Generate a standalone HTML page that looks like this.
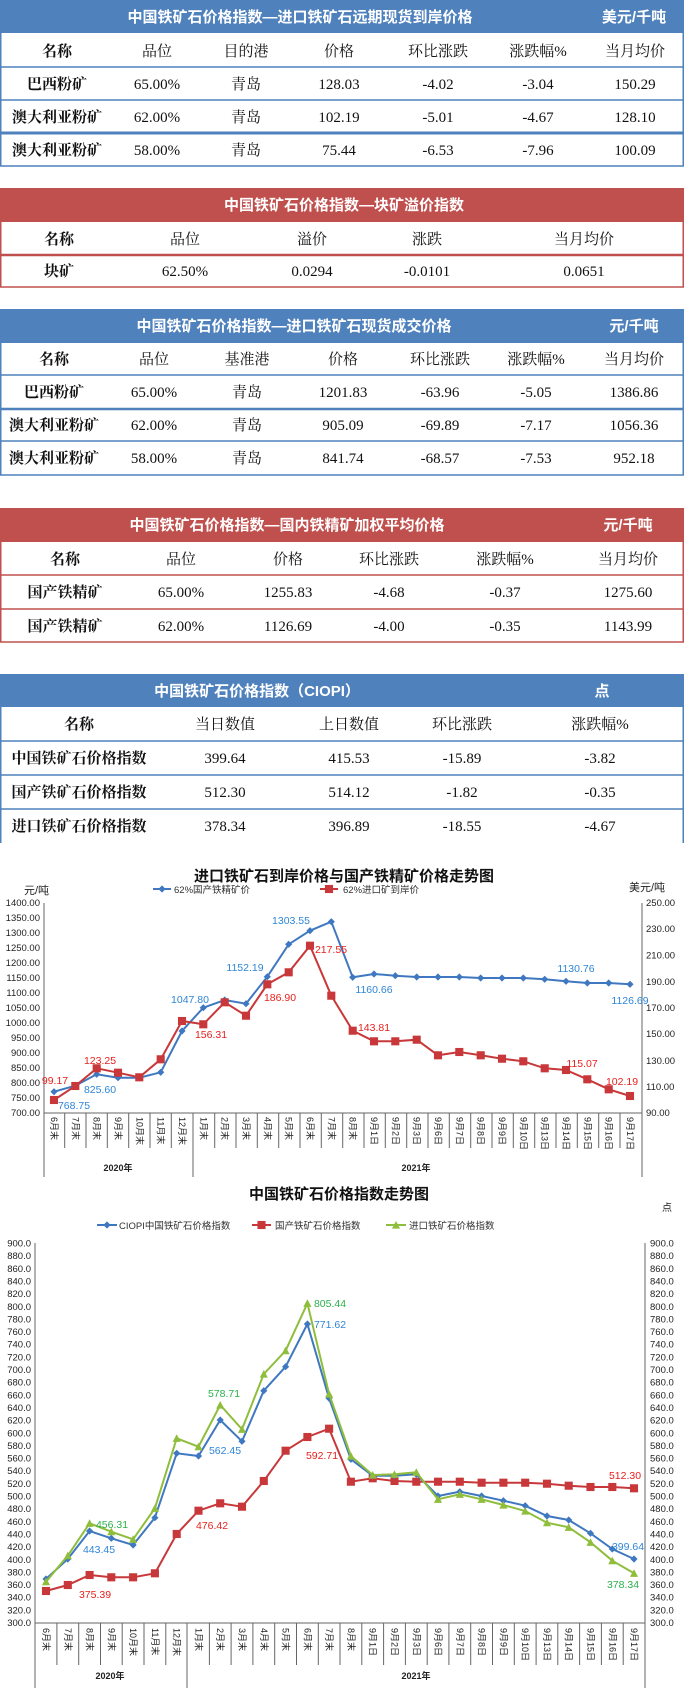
<!DOCTYPE html>
<html><head><meta charset="utf-8"><style>
body{margin:0;background:#fff;width:684px;height:1688px;overflow:hidden}
svg{display:block}
.t{font-family:"Liberation Serif","Noto Serif CJK SC",serif;font-size:15px;fill:#111;text-anchor:middle}
.b{font-weight:bold}
.h{font-family:"Liberation Sans","Noto Sans CJK SC",sans-serif;font-size:15px;font-weight:bold;fill:#fff;text-anchor:middle}
.ax{font-family:"Liberation Sans","Noto Sans CJK SC",sans-serif;font-size:9.5px;fill:#222}
.xl{font-family:"Liberation Sans","Noto Sans CJK SC",sans-serif;font-size:9px;fill:#222}
.an{font-family:"Liberation Sans",sans-serif;font-size:10.5px;text-anchor:middle}
.ti{font-family:"Liberation Sans","Noto Sans CJK SC",sans-serif;font-size:15px;font-weight:bold;fill:#111;text-anchor:middle}
.lg{font-family:"Liberation Sans","Noto Sans CJK SC",sans-serif;font-size:9.5px;fill:#333}
</style></head><body>
<svg width="684" height="1688" viewBox="0 0 684 1688" xmlns="http://www.w3.org/2000/svg">
<defs>
<marker id="mb" viewBox="-5 -5 10 10" markerWidth="8" markerHeight="8" markerUnits="userSpaceOnUse"><path d="M0,-4.5L4.5,0L0,4.5L-4.5,0Z" fill="#3f78c0"/></marker>
<marker id="mr" viewBox="-5 -5 10 10" markerWidth="9" markerHeight="9" markerUnits="userSpaceOnUse"><rect x="-4.5" y="-4.5" width="9" height="9" fill="#c8383a"/></marker>
<marker id="mg" viewBox="-5 -5 10 10" markerWidth="9" markerHeight="9" markerUnits="userSpaceOnUse"><path d="M0,-4.5L4.5,4L-4.5,4Z" fill="#8fbd3c"/></marker>
</defs>

<!-- Table 1 -->
<rect x="0" y="0" width="684" height="33" fill="#4f81bd"/>
<text class="h" x="300" y="22">中国铁矿石价格指数—进口铁矿石远期现货到岸价格</text>
<text class="h" x="634" y="22">美元/千吨</text>
<g stroke="#4f81bd" stroke-width="1.5" fill="none"><path d="M0.75,33V166M683.25,33V166M0,67H684M0,100H684M0,166H684"/><path d="M0,133H684" stroke-width="3"/></g>
<g class="t"><text x="57" y="56" class="t b">名称</text><text x="157" y="56">品位</text><text x="246" y="56">目的港</text><text x="339" y="56">价格</text><text x="438" y="56">环比涨跌</text><text x="538" y="56">涨跌幅%</text><text x="635" y="56">当月均价</text></g>
<g class="t"><text x="57" y="89" class="t b">巴西粉矿</text><text x="157" y="89">65.00%</text><text x="246" y="89">青岛</text><text x="339" y="89">128.03</text><text x="438" y="89">-4.02</text><text x="538" y="89">-3.04</text><text x="635" y="89">150.29</text></g>
<g class="t"><text x="57" y="122" class="t b">澳大利亚粉矿</text><text x="157" y="122">62.00%</text><text x="246" y="122">青岛</text><text x="339" y="122">102.19</text><text x="438" y="122">-5.01</text><text x="538" y="122">-4.67</text><text x="635" y="122">128.10</text></g>
<g class="t"><text x="57" y="155" class="t b">澳大利亚粉矿</text><text x="157" y="155">58.00%</text><text x="246" y="155">青岛</text><text x="339" y="155">75.44</text><text x="438" y="155">-6.53</text><text x="538" y="155">-7.96</text><text x="635" y="155">100.09</text></g>

<!-- Table 2 -->
<rect x="0" y="188" width="684" height="34" fill="#c0504d"/>
<text class="h" x="344" y="210">中国铁矿石价格指数—块矿溢价指数</text>
<g stroke="#c0504d" stroke-width="1.5" fill="none"><path d="M0.75,222V287M683.25,222V287M0,287H684"/><path d="M0,255H684" stroke-width="2.5"/></g>
<g class="t"><text x="59" y="244" class="t b">名称</text><text x="185" y="244">品位</text><text x="312" y="244">溢价</text><text x="427" y="244">涨跌</text><text x="584" y="244">当月均价</text></g>
<g class="t"><text x="59" y="276" class="t b">块矿</text><text x="185" y="276">62.50%</text><text x="312" y="276">0.0294</text><text x="427" y="276">-0.0101</text><text x="584" y="276">0.0651</text></g>

<!-- Table 3 -->
<rect x="0" y="309" width="684" height="34" fill="#4f81bd"/>
<text class="h" x="294" y="331">中国铁矿石价格指数—进口铁矿石现货成交价格</text>
<text class="h" x="634" y="331">元/千吨</text>
<g stroke="#4f81bd" stroke-width="1.5" fill="none"><path d="M0.75,343V475M683.25,343V475M0,375H684M0,441H684M0,475H684"/><path d="M0,409H684" stroke-width="2.5"/></g>
<g class="t"><text x="54" y="364" class="t b">名称</text><text x="154" y="364">品位</text><text x="247" y="364">基准港</text><text x="343" y="364">价格</text><text x="440" y="364">环比涨跌</text><text x="536" y="364">涨跌幅%</text><text x="634" y="364">当月均价</text></g>
<g class="t"><text x="54" y="397" class="t b">巴西粉矿</text><text x="154" y="397">65.00%</text><text x="247" y="397">青岛</text><text x="343" y="397">1201.83</text><text x="440" y="397">-63.96</text><text x="536" y="397">-5.05</text><text x="634" y="397">1386.86</text></g>
<g class="t"><text x="54" y="430" class="t b">澳大利亚粉矿</text><text x="154" y="430">62.00%</text><text x="247" y="430">青岛</text><text x="343" y="430">905.09</text><text x="440" y="430">-69.89</text><text x="536" y="430">-7.17</text><text x="634" y="430">1056.36</text></g>
<g class="t"><text x="54" y="463" class="t b">澳大利亚粉矿</text><text x="154" y="463">58.00%</text><text x="247" y="463">青岛</text><text x="343" y="463">841.74</text><text x="440" y="463">-68.57</text><text x="536" y="463">-7.53</text><text x="634" y="463">952.18</text></g>

<!-- Table 4 -->
<rect x="0" y="508" width="684" height="34" fill="#c0504d"/>
<text class="h" x="287" y="530">中国铁矿石价格指数—国内铁精矿加权平均价格</text>
<text class="h" x="628" y="530">元/千吨</text>
<g stroke="#c0504d" stroke-width="1.5" fill="none"><path d="M0.75,542V642M683.25,542V642M0,575H684M0,609H684M0,642H684"/></g>
<g class="t"><text x="65" y="564" class="t b">名称</text><text x="181" y="564">品位</text><text x="288" y="564">价格</text><text x="389" y="564">环比涨跌</text><text x="505" y="564">涨跌幅%</text><text x="628" y="564">当月均价</text></g>
<g class="t"><text x="65" y="597" class="t b">国产铁精矿</text><text x="181" y="597">65.00%</text><text x="288" y="597">1255.83</text><text x="389" y="597">-4.68</text><text x="505" y="597">-0.37</text><text x="628" y="597">1275.60</text></g>
<g class="t"><text x="65" y="631" class="t b">国产铁精矿</text><text x="181" y="631">62.00%</text><text x="288" y="631">1126.69</text><text x="389" y="631">-4.00</text><text x="505" y="631">-0.35</text><text x="628" y="631">1143.99</text></g>

<!-- Table 5 -->
<rect x="0" y="674" width="684" height="33" fill="#4f81bd"/>
<text class="h" x="257" y="696">中国铁矿石价格指数（CIOPI）</text>
<text class="h" x="602" y="696">点</text>
<g stroke="#4f81bd" stroke-width="1.5" fill="none"><path d="M0.75,707V843M683.25,707V843M0,741H684M0,775H684M0,809H684"/></g>
<g class="t"><text x="79" y="729" class="t b">名称</text><text x="225" y="729">当日数值</text><text x="349" y="729">上日数值</text><text x="462" y="729">环比涨跌</text><text x="600" y="729">涨跌幅%</text></g>
<g class="t"><text x="79" y="763" class="t b">中国铁矿石价格指数</text><text x="225" y="763">399.64</text><text x="349" y="763">415.53</text><text x="462" y="763">-15.89</text><text x="600" y="763">-3.82</text></g>
<g class="t"><text x="79" y="797" class="t b">国产铁矿石价格指数</text><text x="225" y="797">512.30</text><text x="349" y="797">514.12</text><text x="462" y="797">-1.82</text><text x="600" y="797">-0.35</text></g>
<g class="t"><text x="79" y="831" class="t b">进口铁矿石价格指数</text><text x="225" y="831">378.34</text><text x="349" y="831">396.89</text><text x="462" y="831">-18.55</text><text x="600" y="831">-4.67</text></g>

<!-- Chart 1 -->
<text class="ti" x="344" y="881">进口铁矿石到岸价格与国产铁精矿价格走势图</text>
<line x1="153" y1="889" x2="171" y2="889" stroke="#3f78c0" stroke-width="2" marker-mid="url(#mb)"/><path d="M153,889L162,889L171,889" stroke="#3f78c0" stroke-width="2" marker-mid="url(#mb)" fill="none"/>
<text class="lg" x="174" y="893">62%国产铁精矿价</text>
<path d="M320,889L329,889L338,889" stroke="#c8383a" stroke-width="2" marker-mid="url(#mr)" fill="none"/>
<text class="lg" x="343" y="893">62%进口矿到岸价</text>
<text class="ax" x="24" y="894" style="font-size:11px">元/吨</text>
<text class="ax" x="629" y="891" style="font-size:11px">美元/吨</text>
<g stroke="#666" stroke-width="1" fill="none">
<path d="M44,903V1177M642,903V1177M44,1113H642M193,1113V1177"/>
<path d="M64.7,1113v35M86,1113v35M107.3,1113v35M128.7,1113v35M150,1113v35M171.3,1113v35M214.7,1113v35M236,1113v35M257.3,1113v35M278.7,1113v35M300,1113v35M321.3,1113v35M342.7,1113v35M364,1113v35M385.3,1113v35M406.7,1113v35M428,1113v35M449.3,1113v35M470.7,1113v35M492,1113v35M513.3,1113v35M534.7,1113v35M556,1113v35M577.3,1113v35M598.7,1113v35M620,1113v35"/>
</g>
<g class="ax" text-anchor="end">
<text x="40" y="906">1400.00</text><text x="40" y="921">1350.00</text><text x="40" y="936">1300.00</text><text x="40" y="951">1250.00</text><text x="40" y="966">1200.00</text><text x="40" y="981">1150.00</text><text x="40" y="996">1100.00</text><text x="40" y="1011">1050.00</text><text x="40" y="1026">1000.00</text><text x="40" y="1041">950.00</text><text x="40" y="1056">900.00</text><text x="40" y="1071">850.00</text><text x="40" y="1086">800.00</text><text x="40" y="1101">750.00</text><text x="40" y="1116">700.00</text>
</g>
<g class="ax">
<text x="646" y="906">250.00</text><text x="646" y="932">230.00</text><text x="646" y="958.5">210.00</text><text x="646" y="985">190.00</text><text x="646" y="1011">170.00</text><text x="646" y="1037">150.00</text><text x="646" y="1064">130.00</text><text x="646" y="1090">110.00</text><text x="646" y="1116">90.00</text>
</g>
<g class="xl">
<text transform="translate(51,1117) rotate(90)">6月末</text><text transform="translate(72.3,1117) rotate(90)">7月末</text><text transform="translate(93.7,1117) rotate(90)">8月末</text><text transform="translate(115,1117) rotate(90)">9月末</text><text transform="translate(136.3,1117) rotate(90)">10月末</text><text transform="translate(157.7,1117) rotate(90)">11月末</text><text transform="translate(179,1117) rotate(90)">12月末</text><text transform="translate(200.3,1117) rotate(90)">1月末</text><text transform="translate(221.7,1117) rotate(90)">2月末</text><text transform="translate(243,1117) rotate(90)">3月末</text><text transform="translate(264.3,1117) rotate(90)">4月末</text><text transform="translate(285.7,1117) rotate(90)">5月末</text><text transform="translate(307,1117) rotate(90)">6月末</text><text transform="translate(328.3,1117) rotate(90)">7月末</text><text transform="translate(349.7,1117) rotate(90)">8月末</text><text transform="translate(371,1117) rotate(90)">9月1日</text><text transform="translate(392.3,1117) rotate(90)">9月2日</text><text transform="translate(413.7,1117) rotate(90)">9月3日</text><text transform="translate(435,1117) rotate(90)">9月6日</text><text transform="translate(456.3,1117) rotate(90)">9月7日</text><text transform="translate(477.7,1117) rotate(90)">9月8日</text><text transform="translate(499,1117) rotate(90)">9月9日</text><text transform="translate(520.3,1117) rotate(90)">9月10日</text><text transform="translate(541.7,1117) rotate(90)">9月13日</text><text transform="translate(563,1117) rotate(90)">9月14日</text><text transform="translate(584.3,1117) rotate(90)">9月15日</text><text transform="translate(605.7,1117) rotate(90)">9月16日</text><text transform="translate(627,1117) rotate(90)">9月17日</text>
</g>
<text class="xl" x="118" y="1171" text-anchor="middle" font-weight="bold">2020年</text>
<text class="xl" x="416" y="1171" text-anchor="middle" font-weight="bold">2021年</text>
<polyline fill="none" stroke="#3f78c0" stroke-width="2" marker-start="url(#mb)" marker-mid="url(#mb)" marker-end="url(#mb)" points="54,1091.7 75.3,1085.7 96.7,1074.3 118,1077.7 139.3,1077.7 160.7,1072.3 182,1031 203.3,1007.7 224.7,1000 246,1003.7 267.3,976.7 288.7,944.3 310,930.7 331.3,921.7 352.7,977.3 374,974 395.3,975.7 416.7,977 438,977 459.3,977 480.7,978 502,978 523.3,978 544.7,979.3 566,981.3 587.3,983 608.7,983 630,984.3"/>
<polyline fill="none" stroke="#c8383a" stroke-width="2" marker-start="url(#mr)" marker-mid="url(#mr)" marker-end="url(#mr)" points="54,1100 75.3,1086 96.7,1068.3 118,1072.7 139.3,1077.3 160.7,1059.3 182,1021 203.3,1024.3 224.7,1002.3 246,1015.7 267.3,984.3 288.7,972.3 310,945.7 331.3,995.7 352.7,1030.7 374,1041.3 395.3,1041.3 416.7,1039.7 438,1055.3 459.3,1052 480.7,1055.3 502,1058.7 523.3,1061.3 544.7,1068.3 566,1070 587.3,1079.3 608.7,1089.3 630,1096"/>
<g class="an" fill="#2e86d6">
<text x="291" y="924">1303.55</text><text x="245" y="971">1152.19</text><text x="190" y="1003">1047.80</text><text x="374" y="993">1160.66</text><text x="576" y="972">1130.76</text><text x="630" y="1004">1126.69</text><text x="74" y="1109">768.75</text><text x="100" y="1093">825.60</text>
</g>
<g class="an" fill="#e8201c">
<text x="331" y="953">217.55</text><text x="280" y="1001">186.90</text><text x="211" y="1038">156.31</text><text x="374" y="1031">143.81</text><text x="582" y="1067">115.07</text><text x="622" y="1085">102.19</text><text x="55" y="1084">99.17</text><text x="100" y="1064">123.25</text>
</g>

<!-- Chart 2 -->
<text class="ti" x="339" y="1199">中国铁矿石价格指数走势图</text>
<text class="ax" x="662" y="1211" style="font-size:10px">点</text>
<path d="M97,1225L107,1225L117,1225" stroke="#3f78c0" stroke-width="2" marker-mid="url(#mb)" fill="none"/>
<text class="lg" x="119" y="1229">CIOPI中国铁矿石价格指数</text>
<path d="M252,1225L261.5,1225L271,1225" stroke="#c8383a" stroke-width="2" marker-mid="url(#mr)" fill="none"/>
<text class="lg" x="275" y="1229">国产铁矿石价格指数</text>
<path d="M386,1225L396,1225L406,1225" stroke="#8fbd3c" stroke-width="2" marker-mid="url(#mg)" fill="none"/>
<text class="lg" x="409" y="1229">进口铁矿石价格指数</text>
<g stroke="#666" stroke-width="1" fill="none">
<path d="M35,1243V1688M645,1243V1688M35,1623H645M187,1623V1688"/>
<path d="M56.9,1623v42M78.7,1623v42M100.5,1623v42M122.2,1623v42M144,1623v42M165.8,1623v42M209.4,1623v42M231.1,1623v42M252.9,1623v42M274.7,1623v42M296.5,1623v42M318.3,1623v42M340,1623v42M361.8,1623v42M383.6,1623v42M405.4,1623v42M427.2,1623v42M448.9,1623v42M470.7,1623v42M492.5,1623v42M514.3,1623v42M536.1,1623v42M557.8,1623v42M579.6,1623v42M601.4,1623v42M623.2,1623v42"/>
</g>
<g class="ax" text-anchor="end">
<text x="31" y="1246.5">900.0</text><text x="31" y="1259.2">880.0</text><text x="31" y="1271.8">860.0</text><text x="31" y="1284.5">840.0</text><text x="31" y="1297.1">820.0</text><text x="31" y="1309.8">800.0</text><text x="31" y="1322.4">780.0</text><text x="31" y="1335.1">760.0</text><text x="31" y="1347.7">740.0</text><text x="31" y="1360.4">720.0</text><text x="31" y="1373">700.0</text><text x="31" y="1385.7">680.0</text><text x="31" y="1398.3">660.0</text><text x="31" y="1411">640.0</text><text x="31" y="1423.6">620.0</text><text x="31" y="1436.3">600.0</text><text x="31" y="1448.9">580.0</text><text x="31" y="1461.6">560.0</text><text x="31" y="1474.2">540.0</text><text x="31" y="1486.9">520.0</text><text x="31" y="1499.5">500.0</text><text x="31" y="1512.2">480.0</text><text x="31" y="1524.8">460.0</text><text x="31" y="1537.5">440.0</text><text x="31" y="1550.1">420.0</text><text x="31" y="1562.8">400.0</text><text x="31" y="1575.4">380.0</text><text x="31" y="1588.1">360.0</text><text x="31" y="1600.7">340.0</text><text x="31" y="1613.4">320.0</text><text x="31" y="1626">300.0</text>
</g>
<g class="ax">
<text x="650" y="1246.5">900.0</text><text x="650" y="1259.2">880.0</text><text x="650" y="1271.8">860.0</text><text x="650" y="1284.5">840.0</text><text x="650" y="1297.1">820.0</text><text x="650" y="1309.8">800.0</text><text x="650" y="1322.4">780.0</text><text x="650" y="1335.1">760.0</text><text x="650" y="1347.7">740.0</text><text x="650" y="1360.4">720.0</text><text x="650" y="1373">700.0</text><text x="650" y="1385.7">680.0</text><text x="650" y="1398.3">660.0</text><text x="650" y="1411">640.0</text><text x="650" y="1423.6">620.0</text><text x="650" y="1436.3">600.0</text><text x="650" y="1448.9">580.0</text><text x="650" y="1461.6">560.0</text><text x="650" y="1474.2">540.0</text><text x="650" y="1486.9">520.0</text><text x="650" y="1499.5">500.0</text><text x="650" y="1512.2">480.0</text><text x="650" y="1524.8">460.0</text><text x="650" y="1537.5">440.0</text><text x="650" y="1550.1">420.0</text><text x="650" y="1562.8">400.0</text><text x="650" y="1575.4">380.0</text><text x="650" y="1588.1">360.0</text><text x="650" y="1600.7">340.0</text><text x="650" y="1613.4">320.0</text><text x="650" y="1626">300.0</text>
</g>
<g class="xl">
<text transform="translate(43,1628) rotate(90)">6月末</text><text transform="translate(64.8,1628) rotate(90)">7月末</text><text transform="translate(86.6,1628) rotate(90)">8月末</text><text transform="translate(108.3,1628) rotate(90)">9月末</text><text transform="translate(130.1,1628) rotate(90)">10月末</text><text transform="translate(151.9,1628) rotate(90)">11月末</text><text transform="translate(173.7,1628) rotate(90)">12月末</text><text transform="translate(195.5,1628) rotate(90)">1月末</text><text transform="translate(217.2,1628) rotate(90)">2月末</text><text transform="translate(239,1628) rotate(90)">3月末</text><text transform="translate(260.8,1628) rotate(90)">4月末</text><text transform="translate(282.6,1628) rotate(90)">5月末</text><text transform="translate(304.4,1628) rotate(90)">6月末</text><text transform="translate(326.1,1628) rotate(90)">7月末</text><text transform="translate(347.9,1628) rotate(90)">8月末</text><text transform="translate(369.7,1628) rotate(90)">9月1日</text><text transform="translate(391.5,1628) rotate(90)">9月2日</text><text transform="translate(413.3,1628) rotate(90)">9月3日</text><text transform="translate(435,1628) rotate(90)">9月6日</text><text transform="translate(456.8,1628) rotate(90)">9月7日</text><text transform="translate(478.6,1628) rotate(90)">9月8日</text><text transform="translate(500.4,1628) rotate(90)">9月9日</text><text transform="translate(522.2,1628) rotate(90)">9月10日</text><text transform="translate(544,1628) rotate(90)">9月13日</text><text transform="translate(565.7,1628) rotate(90)">9月14日</text><text transform="translate(587.5,1628) rotate(90)">9月15日</text><text transform="translate(609.3,1628) rotate(90)">9月16日</text><text transform="translate(631.1,1628) rotate(90)">9月17日</text>
</g>
<text class="xl" x="110" y="1679" text-anchor="middle" font-weight="bold">2020年</text>
<text class="xl" x="416" y="1679" text-anchor="middle" font-weight="bold">2021年</text>
<polyline fill="none" stroke="#c8383a" stroke-width="2" marker-start="url(#mr)" marker-mid="url(#mr)" marker-end="url(#mr)" points="46,1591 67.8,1585 89.6,1575 111.3,1577.3 133.1,1577.3 154.9,1573.3 176.7,1534 198.5,1510.7 220.2,1503.3 242,1506.7 263.8,1481 285.6,1450.7 307.4,1437 329.1,1428.7 350.9,1481.7 372.7,1478.3 394.5,1481 416.3,1481.7 438,1481.7 459.8,1481.7 481.6,1482.7 503.4,1482.7 525.2,1482.7 547,1483.7 568.7,1485.7 590.5,1487 612.3,1487 634,1488.3"/>
<polyline fill="none" stroke="#3f78c0" stroke-width="2" marker-start="url(#mb)" marker-mid="url(#mb)" marker-end="url(#mb)" points="46,1579 67.8,1559 89.6,1531 111.3,1538.3 133.1,1545 154.9,1517.7 176.7,1453.3 198.5,1456 220.2,1420 242,1441.3 263.8,1390.7 285.6,1366.7 307.4,1324 329.1,1398.3 350.9,1459.3 372.7,1475.7 394.5,1475.7 416.3,1474.3 438,1496 459.8,1491.7 481.6,1496 503.4,1500.7 525.2,1505.7 547,1516 568.7,1520 590.5,1533.3 612.3,1549 634,1559"/>
<polyline fill="none" stroke="#8fbd3c" stroke-width="2" marker-start="url(#mg)" marker-mid="url(#mg)" marker-end="url(#mg)" points="46,1581.7 67.8,1555.7 89.6,1523.3 111.3,1531.7 133.1,1539.3 154.9,1508.3 176.7,1438.3 198.5,1446.7 220.2,1405 242,1429.3 263.8,1374 285.6,1350.7 307.4,1303.3 329.1,1394 350.9,1456 372.7,1475 394.5,1474.3 416.3,1472.3 438,1499.3 459.8,1494.3 481.6,1499.3 503.4,1505 525.2,1511 547,1522.7 568.7,1527.3 590.5,1542.3 612.3,1560.7 634,1573.3"/>
<g class="an" fill="#2ab04a"><text x="330" y="1307">805.44</text><text x="224" y="1397">578.71</text><text x="112" y="1528">456.31</text><text x="623" y="1588">378.34</text></g>
<g class="an" fill="#2e86d6"><text x="330" y="1328">771.62</text><text x="225" y="1454">562.45</text><text x="99" y="1553">443.45</text><text x="628" y="1550">399.64</text></g>
<g class="an" fill="#e8201c"><text x="322" y="1459">592.71</text><text x="212" y="1529">476.42</text><text x="95" y="1598">375.39</text><text x="625" y="1479">512.30</text></g>
</svg>
</body></html>
